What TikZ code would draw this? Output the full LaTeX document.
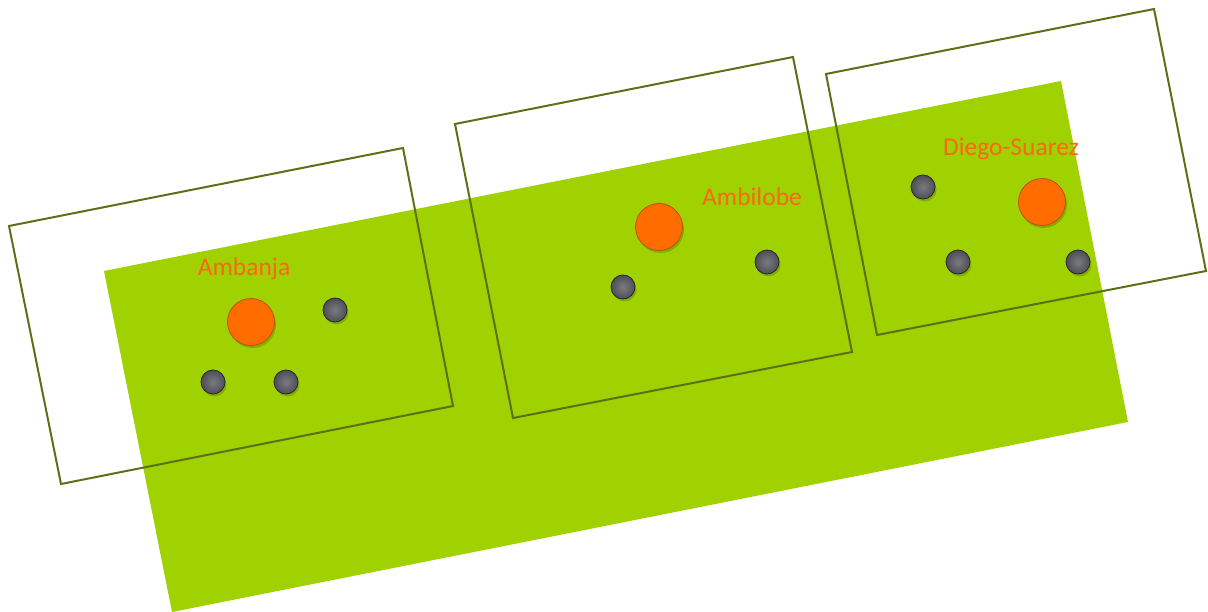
\documentclass[tikz,border=0pt]{standalone}
\usepackage{fontspec}
\setmainfont{Carlito}
\usetikzlibrary{shadows}
\definecolor{grn}{RGB}{160,209,0}
\definecolor{frame}{RGB}{92,112,24}
\definecolor{orng}{RGB}{255,108,0}
\definecolor{orngdk}{RGB}{190,80,10}
\definecolor{txt}{RGB}{250,104,20}
\definecolor{dotc}{RGB}{78,78,86}
\definecolor{dotdk}{RGB}{40,40,46}
\tikzset{
  framebox/.style={draw=frame, line width=2pt, line join=miter},
  city/.style={circle, minimum size=47pt, inner sep=0pt, fill=orng, draw=orngdk, line width=0.8pt,
    drop shadow={shadow xshift=1.5pt, shadow yshift=-2.5pt, fill=black, opacity=0.18}},
  dot/.style={circle, minimum size=24pt, inner sep=0pt, draw=dotdk, line width=0.8pt,
    inner color=dotc!75!white, outer color=dotc,
    drop shadow={shadow xshift=1.5pt, shadow yshift=-2.5pt, fill=black, opacity=0.18}},
  lbl/.style={text=txt, font=\fontsize{25.5}{28}\selectfont, inner sep=0pt}
}
\begin{document}
\begin{tikzpicture}[x=1pt, y=-1pt]
\useasboundingbox (0,0) rectangle (1208,612);
% green band
\fill[grn] (104,271) -- (1061,81) -- (1128,422) -- (172,612) -- cycle;
% frames
\draw[framebox] (9,226) -- (403,148) -- (453,406) -- (61,484) -- cycle;
\draw[framebox] (455,124) -- (793,57) -- (852,352) -- (513,418) -- cycle;
\draw[framebox] (826,74) -- (1154,9) -- (1206,271) -- (877,335) -- cycle;
% Ambanja
\node[lbl] (l1) at (244,269) {Ambanja};
\node[city] (c1) at (251,322) {};
\node[dot] (d11) at (335,310) {};
\node[dot] (d12) at (213,382) {};
\node[dot] (d13) at (286,382) {};
% Ambilobe
\node[lbl] (l2) at (752,197) {Ambilobe};
\node[city] (c2) at (659,227) {};
\node[dot] (d21) at (767,262) {};
\node[dot] (d22) at (623,287) {};
% Diego-Suarez
\node[lbl] (l3) at (1011,149) {Diego-Suarez};
\node[city] (c3) at (1042,202) {};
\node[dot] (d31) at (923,187) {};
\node[dot] (d32) at (958,262) {};
\node[dot] (d33) at (1078,262) {};
\end{tikzpicture}
\end{document}
